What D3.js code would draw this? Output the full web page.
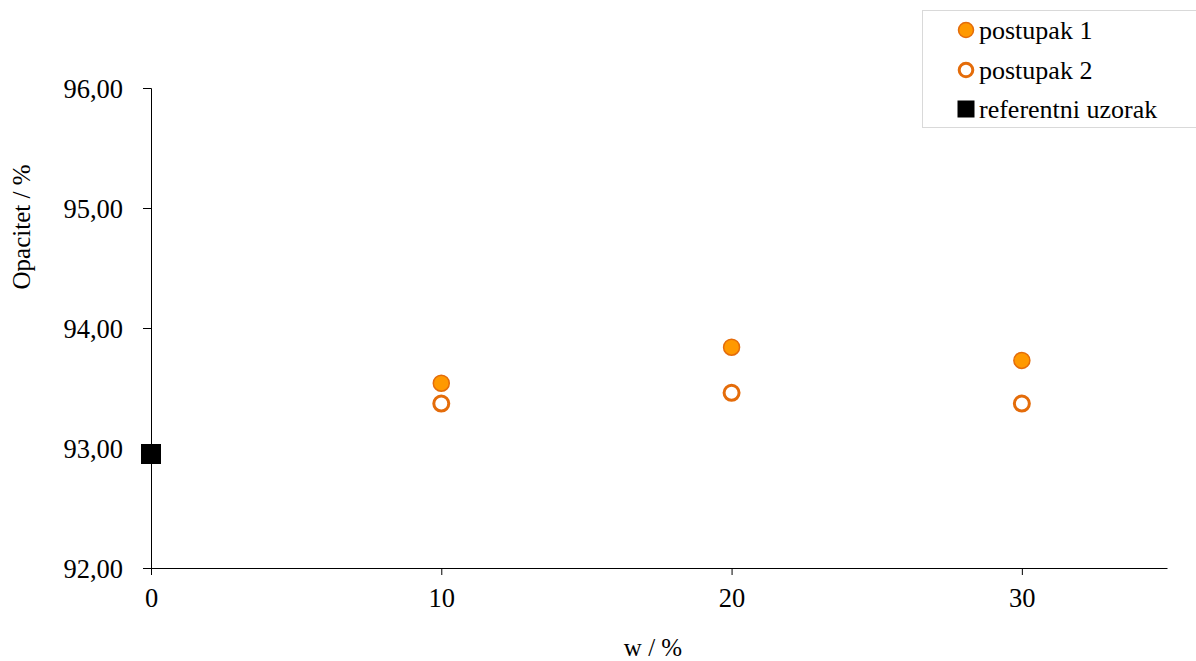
<!DOCTYPE html>
<html><head><meta charset="utf-8">
<script src="https://cdn.jsdelivr.net/npm/d3@7"></script>
<style>body{margin:0;background:#fff}svg{display:block}text{font-family:"Liberation Serif","Times New Roman",serif;fill:#000}</style>
</head><body><svg id="c" width="1196" height="661"></svg>
<script>
const xValues = [10, 20, 30];
const postupak1 = [93.54, 93.84, 93.73];
const postupak2 = [93.37, 93.46, 93.37];
const refX = [0];
const refY = [92.95];
const xTicks = [0, 10, 20, 30];
const yTicks = [92, 93, 94, 95, 96];
const seriesNames = ["postupak 1", "postupak 2", "referentni uzorak"];

const svg = d3.select("#c");
const x = d3.scaleLinear().domain([0, 35]).range([151, 1167]);
const y = d3.scaleLinear().domain([92, 96]).range([568, 88]);
const fmt = d => d.toFixed(2).replace(".", ",");

const gy = svg.append("g").attr("transform", "translate(151,0)")
  .call(d3.axisLeft(y).tickValues(yTicks).tickFormat(fmt).tickSize(8).tickPadding(20));
const gx = svg.append("g").attr("transform", "translate(0,568)")
  .call(d3.axisBottom(x).tickValues(xTicks).tickFormat(d3.format("d")).tickSize(7).tickPadding(13).tickSizeOuter(0));
[gx, gy].forEach(g => {
  g.attr("font-size", null).attr("font-family", null);
  g.select(".domain").attr("stroke", "#000").attr("stroke-width", 1);
  g.selectAll(".tick line").attr("stroke", "#000");
  g.selectAll("text").attr("font-size", 26.5).attr("font-family", "Liberation Serif");
});
gy.selectAll(".tick text").attr("dy", "0.35em");

svg.append("text").attr("x", 653).attr("y", 656).attr("text-anchor", "middle").attr("font-size", 25).text("w / %");
svg.append("text").attr("transform", "translate(30,227) rotate(-90)").attr("text-anchor", "middle").attr("font-size", 25).text("Opacitet / %");

const fillC = "#FF9900", strokeC = "#E46C0A";
svg.append("g").selectAll("circle").data(xValues).join("circle")
  .attr("cx", (d) => x(d)).attr("cy", (d, i) => y(postupak2[i])).attr("r", 7.5)
  .attr("fill", "#fff").attr("stroke", strokeC).attr("stroke-width", 3);
svg.append("g").selectAll("circle").data(xValues).join("circle")
  .attr("cx", (d) => x(d)).attr("cy", (d, i) => y(postupak1[i])).attr("r", 8)
  .attr("fill", fillC).attr("stroke", strokeC).attr("stroke-width", 1.5);
svg.append("g").selectAll("rect").data(refX).join("rect")
  .attr("x", d => x(d) - 10).attr("y", (d, i) => y(refY[i]) - 10).attr("width", 20).attr("height", 20)
  .attr("fill", "#000");

// legend
const lg = svg.append("g");
lg.append("rect").attr("x", 922.5).attr("y", 10.5).attr("width", 280).attr("height", 117)
  .attr("fill", "#fff").attr("stroke", "#d9d9d9");
const rows = [30, 70, 109];
seriesNames.forEach((n, i) => {
  const cy = rows[i];
  if (i === 0) lg.append("circle").attr("cx", 966).attr("cy", cy).attr("r", 7.5).attr("fill", fillC).attr("stroke", strokeC).attr("stroke-width", 1.5);
  else if (i === 1) lg.append("circle").attr("cx", 966).attr("cy", cy).attr("r", 6.8).attr("fill", "#fff").attr("stroke", strokeC).attr("stroke-width", 3);
  else lg.append("rect").attr("x", 957.5).attr("y", cy - 8.5).attr("width", 17).attr("height", 17).attr("fill", "#000");
  lg.append("text").attr("x", 979).attr("y", cy).attr("dy", "0.33em").attr("font-size", 26).text(n);
});
</script></body></html>
